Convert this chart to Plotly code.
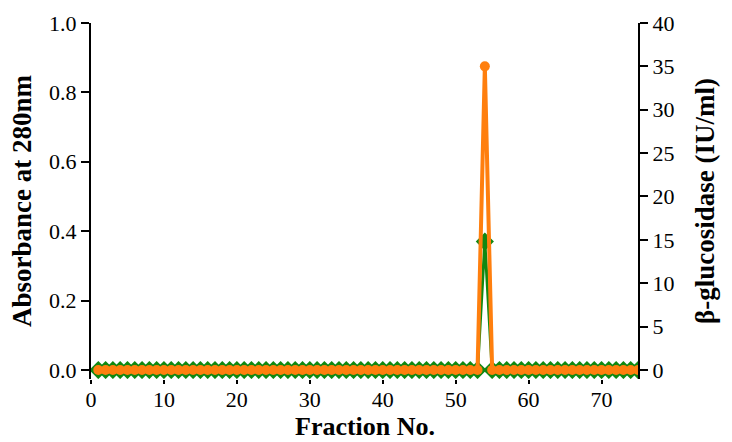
import plotly.graph_objects as go

fractions = list(range(1, 76))
absorbance = [0.0] * 75
absorbance[53] = 0.37  # fraction 54
enzyme = [0.0] * 75
enzyme[53] = 35.0  # fraction 54

x_ticks = [0, 10, 20, 30, 40, 50, 60, 70]
y1_ticks = [0.0, 0.2, 0.4, 0.6, 0.8, 1.0]
y2_ticks = [0, 5, 10, 15, 20, 25, 30, 35, 40]

font_family = "Liberation Serif"

fig = go.Figure()
fig.add_trace(go.Scatter(
    x=fractions, y=absorbance, mode="lines+markers",
    line=dict(color="#118811", width=3),
    marker=dict(symbol="diamond", size=14, color="#118811"),
    yaxis="y", showlegend=False))
fig.add_trace(go.Scatter(
    x=fractions, y=enzyme, mode="lines+markers",
    line=dict(color="#ff7f0e", width=4),
    marker=dict(symbol="circle", size=10, color="#ff7f0e"),
    yaxis="y2", showlegend=False))

fig.update_layout(
    width=732, height=442,
    margin=dict(l=91, r=94, t=23, b=63),
    plot_bgcolor="white", paper_bgcolor="white",
    font=dict(family=font_family, size=22, color="black"),
    xaxis=dict(
        range=[0, 75], tickvals=x_ticks, ticktext=[str(v) for v in x_ticks],
        ticks="outside", ticklen=4, tickwidth=1.5, tickcolor="black",
        ticklabelstandoff=-3,
        showline=False, showgrid=False, zeroline=False, automargin=False),
    yaxis=dict(
        range=[-0.026, 1.0], tickvals=y1_ticks, ticktext=["%.1f" % v for v in y1_ticks],
        ticks="outside", ticklen=8, tickwidth=1.5, tickcolor="black",
        showline=True, linecolor="black", linewidth=2, automargin=False,
        showgrid=False, zeroline=False,
        title=dict(text="<b>Absorbance at 280nm</b>", font=dict(size=27), standoff=10)),
    yaxis2=dict(
        range=[-1.04, 40], tickvals=y2_ticks, ticktext=[str(v) for v in y2_ticks],
        overlaying="y", side="right",
        ticks="outside", ticklen=8, tickwidth=1.5, tickcolor="black",
        showline=True, linecolor="black", linewidth=2, automargin=False,
        showgrid=False, zeroline=False,
        title=dict(text="<b>β-glucosidase (IU/ml)</b>", font=dict(size=27), standoff=22)),
    annotations=[dict(
        text="<b>Fraction No.</b>", xref="paper", yref="paper",
        x=0.5, y=-0.133, xanchor="center", yanchor="middle",
        showarrow=False, font=dict(size=26))],
)

fig.write_html("out.html")
